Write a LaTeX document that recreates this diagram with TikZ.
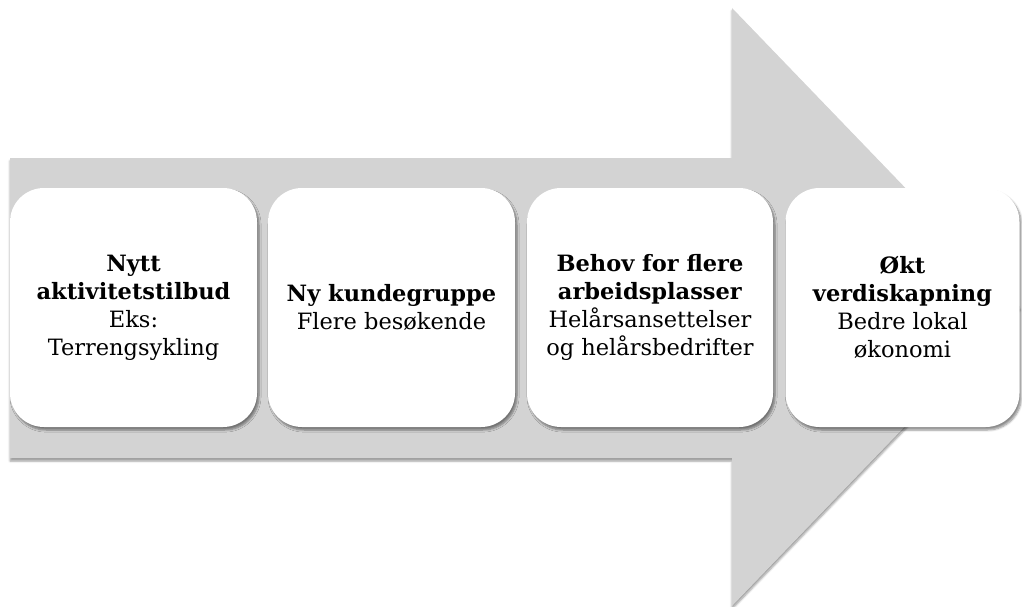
\documentclass[tikz,border=0pt]{standalone}
\usepackage{fontspec}
\setmainfont{DejaVu Serif}
\usetikzlibrary{shadows.blur}
\definecolor{arrowgrey}{RGB}{211,211,211}
\begin{document}
\begin{tikzpicture}[x=1pt,y=-1pt,
  card/.style={draw=none, fill=white, rounded corners=34pt,
    minimum height=239pt, inner sep=0pt,
    blur shadow={shadow xshift=2pt, shadow yshift=-3pt, shadow blur steps=6, shadow opacity=45}},
  cardtext/.style={align=center, font=\fontsize{22.5}{28}\selectfont, text=black, inner sep=0pt},
  arrowshape/.style={fill=arrowgrey, draw=none,
    blur shadow={shadow xshift=0pt, shadow yshift=-3pt, shadow blur steps=5, shadow opacity=40}}]
\useasboundingbox (0,0) rectangle (1022,607);
\path[arrowshape] (10,158) -- (732,158) -- (732,8) -- (1020,307) -- (732,606) -- (732,458) -- (10,458) -- cycle;

\node[card, minimum width=247pt] (b1) at (133.5,307.5) {};
\node[card, minimum width=247pt] (b2) at (391.5,307.5) {};
\node[card, minimum width=246pt] (b3) at (650,307.5) {};
\node[card, minimum width=234pt] (b4) at (902.5,307.5) {};

\node[cardtext] (t1) at (b1) {\textbf{Nytt}\\\textbf{aktivitetstilbud}\\Eks:\\Terrengsykling};
\node[cardtext] (t2) at (b2) {\textbf{Ny kundegruppe}\\Flere besøkende};
\node[cardtext] (t3) at (b3) {\textbf{Behov for flere}\\\textbf{arbeidsplasser}\\Helårsansettelser\\og helårsbedrifter};
\node[cardtext] (t4) at (b4) {\textbf{Økt}\\\textbf{verdiskapning}\\Bedre lokal\\økonomi};
\end{tikzpicture}
\end{document}
